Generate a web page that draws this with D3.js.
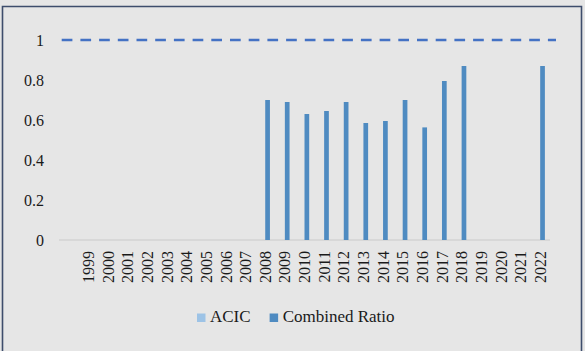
<!DOCTYPE html>
<html>
<head>
<meta charset="utf-8">
<script src="https://cdn.jsdelivr.net/npm/d3@7"></script>
<style>
  html, body { margin: 0; padding: 0; background: #e6e6e6; }
  svg { display: block; }
  svg text { font-family: "Liberation Serif", serif; fill: #1a1a1a; }
</style>
</head>
<body>
<svg id="chart" width="585" height="351"></svg>
<script>
// ---- data ----
const categories = ["", "1999","2000","2001","2002","2003","2004","2005","2006","2007","2008","2009","2010","2011","2012","2013","2014","2015","2016","2017","2018","2019","2020","2021","2022"];
const acic = [null,null,null,null,null,null,null,null,null,null,null,null,null,null,null,null,null,null,null,null,null,null,null,null,null];
const combinedRatio = [null,null,null,null,null,null,null,null,null,null,0.70,0.69,0.63,0.645,0.69,0.585,0.595,0.70,0.563,0.795,0.87,null,null,null,0.87];
const seriesNames = ["ACIC", "Combined Ratio"];
const seriesColors = ["#9dc3e6", "#4f8bc1"];
const yTicks = [0, 0.2, 0.4, 0.6, 0.8, 1];
const referenceValue = 1;

// ---- layout ----
const svg = d3.select("#chart");
const W = 585, H = 351;
const FONT = '"Liberation Serif", serif';

svg.append("rect").attr("x", 0).attr("y", 0).attr("width", W).attr("height", H).attr("fill", "#e6e6e6");
// chart border
svg.append("path")
  .attr("d", "M2.5,360 L2.5,6.5 L581.5,6.5 L581.5,360")
  .attr("fill", "none").attr("stroke", "#3e4d6c").attr("stroke-width", 1.6);

const plot = { left: 59, right: 550, top: 40, bottom: 240 };

const x = d3.scaleBand().domain(categories).range([plot.left, plot.right]).paddingInner(0).paddingOuter(0);
const y = d3.scaleLinear().domain([0, 1]).range([plot.bottom, plot.top]);
const barW = 4.7;
const xSub = d3.scaleBand().domain(seriesNames).range([x.bandwidth()/2 - barW, x.bandwidth()/2 + barW]);

// y axis labels
const yAxis = d3.axisLeft(y).tickValues(yTicks).tickSize(0).tickPadding(0).tickFormat(d3.format("~g"));
const gy = svg.append("g").attr("transform", "translate(44,0)").call(yAxis);
gy.attr("font-family", FONT).attr("font-size", 16);
gy.select(".domain").remove();
gy.selectAll("text").attr("font-size", 16).attr("font-family", FONT);

// x axis line
svg.append("line")
  .attr("x1", plot.left).attr("x2", plot.right)
  .attr("y1", y(0)).attr("y2", y(0))
  .attr("stroke", "#d3d3d3").attr("stroke-width", 1.5);

// x tick labels
const xAxis = d3.axisBottom(x).tickSize(0).tickPadding(0);
const gx = svg.append("g").attr("transform", `translate(0,${y(0)})`).call(xAxis);
gx.attr("font-family", FONT).attr("font-size", 16);
gx.select(".domain").remove();
gx.selectAll("text")
  .attr("font-size", 16)
  .attr("font-family", FONT)
  .attr("text-anchor", "end")
  .attr("transform", "translate(0,11) rotate(-90)")
  .attr("x", 0).attr("y", 0).attr("dy", "0.35em");

// bars
const series = [acic, combinedRatio];
series.forEach((vals, si) => {
  svg.append("g").selectAll("rect")
    .data(vals.map((v, i) => ({ cat: categories[i], v })).filter(d => d.v != null))
    .join("rect")
    .attr("x", d => x(d.cat) + xSub(seriesNames[si]))
    .attr("width", xSub.bandwidth())
    .attr("y", d => y(d.v))
    .attr("height", d => y(0) - y(d.v))
    .attr("fill", seriesColors[si]);
});

// reference dashed line
svg.append("line")
  .attr("x1", 61.7).attr("x2", 556)
  .attr("y1", y(referenceValue)).attr("y2", y(referenceValue))
  .attr("stroke", "#4472c4").attr("stroke-width", 2.5)
  .attr("stroke-dasharray", "10.7 8");

// legend
const legend = svg.append("g").attr("transform", "translate(197,322)");
let lx = 0;
seriesNames.forEach((name, i) => {
  legend.append("rect").attr("x", lx).attr("y", -8.5).attr("width", 8.5).attr("height", 8.5).attr("fill", seriesColors[i]);
  const t = legend.append("text").attr("x", lx + 13).attr("y", 0).attr("font-size", 17).attr("font-family", FONT).text(name);
  lx += 13 + t.node().getComputedTextLength() + 19;
});
</script>
</body>
</html>
